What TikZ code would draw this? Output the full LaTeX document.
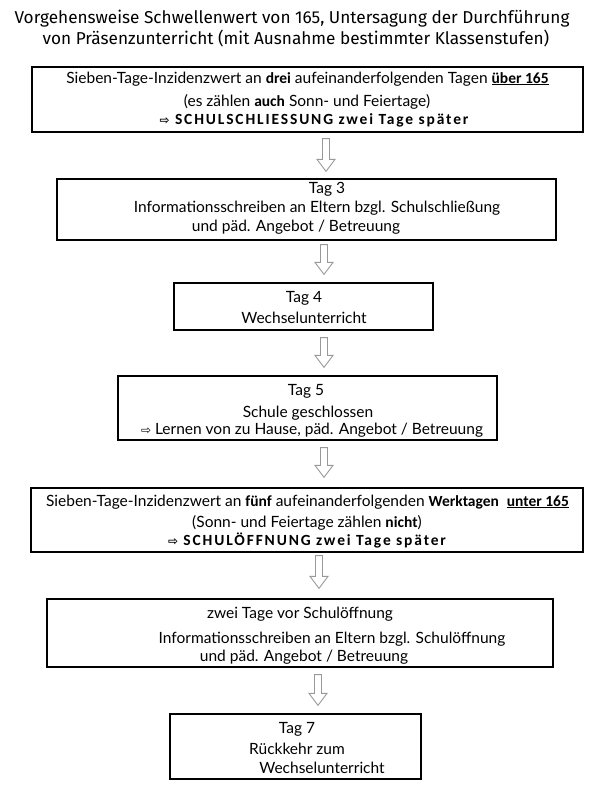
\documentclass[tikz,border=0pt]{standalone}
\usepackage{fontspec}
\setmainfont{Lato}
\newfontfamily\titlefont{Fira Sans}
\newfontfamily\boldfont{Carlito}
\newfontfamily\capsfont[LetterSpace=12]{Carlito}
\newfontfamily\symfont{DejaVu Sans}
\usetikzlibrary{calc}
\newcommand\bw[1]{{\boldfont\bfseries #1}}
\newcommand\arr{{\symfont\fontsize{12}{12}\selectfont ⇨}}
\newcommand\flowarrow[5]{%
  \draw[flowarr] let \p1=(#1.south), \p2=(#2.north) in
   (#3pt-3.5pt,\y1-#4pt) -- (#3pt+3.5pt,\y1-#4pt) -- (#3pt+3.5pt,\y2+#5pt+12pt)
   -- (#3pt+9pt,\y2+#5pt+12pt) -- (#3pt,\y2+#5pt) -- (#3pt-9pt,\y2+#5pt+12pt)
   -- (#3pt-3.5pt,\y2+#5pt+12pt) -- cycle;}
\begin{document}
\begin{tikzpicture}[x=1pt,y=-1pt,
  box/.style={draw=black,line width=1.2pt,inner sep=0pt},
  txt/.style={anchor=base,inner sep=0pt,font=\fontsize{15.5}{17}\selectfont},
  caps/.style={anchor=base,inner sep=0pt,font=\capsfont\bfseries\fontsize{15.5}{17}\selectfont},
  ttl/.style={anchor=base,inner sep=0pt,font=\titlefont\fontsize{17.2}{19}\selectfont},
  flowarr/.style={draw=black!40,line width=0.9pt,fill=white}]
\useasboundingbox[fill=white] (0,0) rectangle (596,788);

% title
\node[ttl] (title1) at (292,23) {Vorgehensweise Schwellenwert von 165, Untersagung der Durchführung};
\node[ttl] (title2) at (296,44) {von Präsenzunterricht (mit Ausnahme bestimmter Klassenstufen)};

% boxes
\node[box,minimum width=551pt,minimum height=65pt] (b1) at (307.5,99.5) {};
\node[box,minimum width=499pt,minimum height=61pt] (b2) at (306.5,209.5) {};
\node[box,minimum width=259pt,minimum height=47pt] (b3) at (303.5,306.5) {};
\node[box,minimum width=379pt,minimum height=64pt] (b4) at (307.5,408) {};
\node[box,minimum width=552pt,minimum height=64pt] (b5) at (307,520) {};
\node[box,minimum width=506pt,minimum height=68pt] (b6) at (300,633) {};
\node[box,minimum width=251pt,minimum height=65pt] (b7) at (295.5,746.5) {};

% box 1
\node[txt] (t1a) at (307.5,83) {Sieben-Tage-Inzidenzwert an \bw{drei} aufeinanderfolgenden Tagen \underline{\bw{über 165}}};
\node[txt] (t1b) at (307,106) {(es zählen \bw{auch} Sonn- und Feiertage)};
\node[caps] (t1c) at (314,124.5) {\arr\ SCHULSCHLIESSUNG zwei Tage später};
% box 2
\node[txt] (t2a) at (327,193) {Tag 3};
\node[txt] (t2b) at (317,212) {Informationsschreiben an Eltern bzgl. Schulschließung};
\node[txt] (t2c) at (296,231) {und päd. Angebot / Betreuung};
% box 3
\node[txt] (t3a) at (304,302) {Tag 4};
\node[txt] (t3b) at (304,323) {Wechselunterricht};
% box 4
\node[txt] (t4a) at (306,395) {Tag 5};
\node[txt] (t4b) at (308,417) {Schule geschlossen};
\node[txt] (t4c) at (312,434) {\arr\ Lernen von zu Hause, päd. Angebot / Betreuung};
% box 5
\node[txt] (t5a) at (307.5,506) {Sieben-Tage-Inzidenzwert an \bw{fünf} aufeinanderfolgenden \bw{Werktagen}\ \ \underline{\bw{unter 165}}};
\node[txt] (t5b) at (307,527) {(Sonn- und Feiertage zählen \bw{nicht})};
\node[caps] (t5c) at (307,545.5) {\arr\ SCHULÖFFNUNG zwei Tage später};
% box 6
\node[txt] (t6a) at (300,618) {zwei Tage vor Schulöffnung};
\node[txt] (t6b) at (332,643) {Informationsschreiben an Eltern bzgl. Schulöffnung};
\node[txt] (t6c) at (304,661) {und päd. Angebot / Betreuung};
% box 7
\node[txt] (t7a) at (297,733) {Tag 7};
\node[txt] (t7b) at (297,754) {Rückkehr zum};
\node[txt] (t7c) at (322,773) {Wechselunterricht};

% arrows
\flowarrow{b1}{b2}{326}{6}{7}
\flowarrow{b2}{b3}{324}{4}{8}
\flowarrow{b3}{b4}{324}{7}{8}
\flowarrow{b4}{b5}{324}{7}{10}
\flowarrow{b5}{b6}{319}{3}{10}
\flowarrow{b6}{b7}{318}{7}{8}
\end{tikzpicture}
\end{document}
